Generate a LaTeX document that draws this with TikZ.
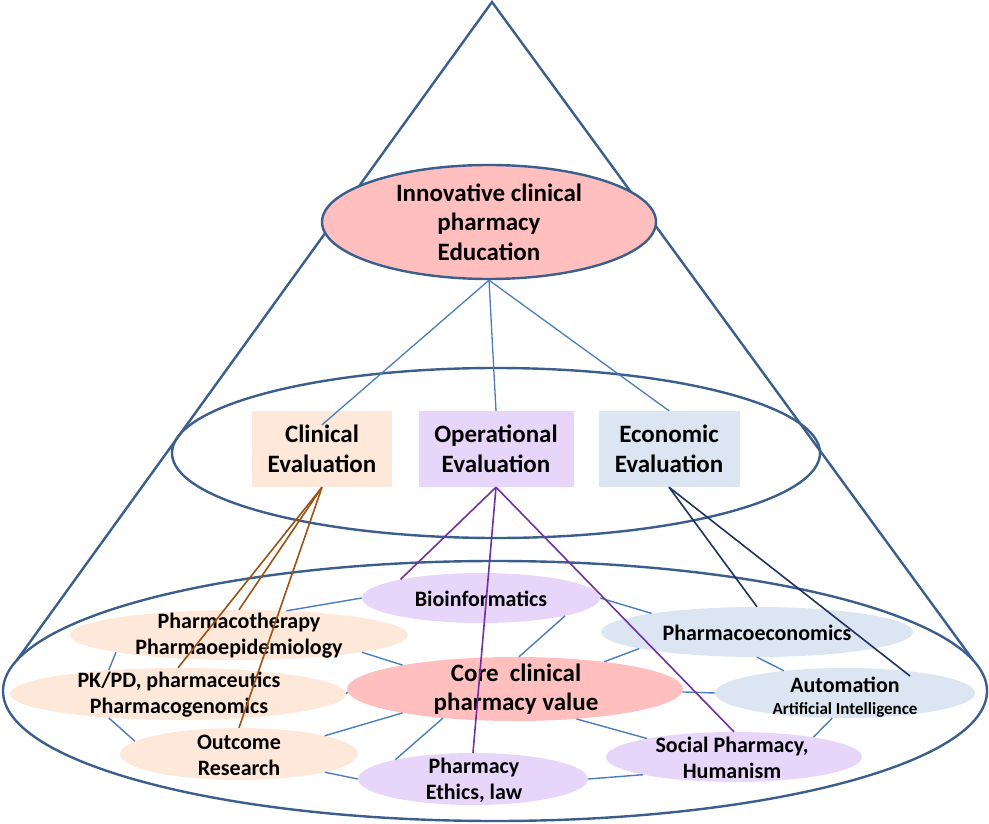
\documentclass[tikz,border=0pt]{standalone}
\usepackage{fontspec}
\setmainfont{Carlito}
\usetikzlibrary{shapes.geometric,calc}
\definecolor{bord}{RGB}{59,94,140}
\definecolor{conn}{RGB}{74,126,187}
\definecolor{brn}{RGB}{156,82,20}
\definecolor{prp}{RGB}{112,48,160}
\definecolor{nvy}{RGB}{31,50,96}
\definecolor{pinkf}{RGB}{255,191,191}
\definecolor{peach}{RGB}{253,232,217}
\definecolor{lav}{RGB}{231,214,249}
\definecolor{lblue}{RGB}{220,230,242}
\begin{document}
\begin{tikzpicture}[x=1pt,y=-1pt,
  big/.style={ellipse,inner sep=0pt,draw=bord,line width=2.4pt},
  ell/.style={ellipse,inner sep=0pt,draw=none},
  box/.style={rectangle,inner sep=0pt,draw=none},
  txt/.style={font=\bfseries\fontsize{22}{26}\selectfont,align=center,inner sep=0pt,text=black},
  txtL/.style={font=\bfseries\fontsize{25}{29.5}\selectfont,align=center,inner sep=0pt,text=black},
  con/.style={draw=conn,line width=1.4pt},
  brl/.style={draw=brn,line width=1.6pt},
  prl/.style={draw=prp,line width=1.6pt},
  nvl/.style={draw=nvy,line width=1.6pt}]
\useasboundingbox (0,0) rectangle (989,824);

% cone outline
\coordinate (apex) at (492,2);
\coordinate (tl) at (17,660);
\coordinate (tr) at (973,660);
\draw[draw=bord,line width=2.4pt,line join=miter] (tl) -- (apex) -- (tr);

% big ellipses
\node[big,minimum width=648pt,minimum height=170pt] (mid) at (496,453) {};
\node[big,minimum width=984pt,minimum height=260pt] (base) at (495,691) {};
\node[big,fill=pinkf,minimum width=334pt,minimum height=114pt] (edu) at (489,222) {};
\node[txtL] (eduT) at (489,222) {Innovative clinical\\pharmacy\\Education};

% evaluation boxes
\node[box,fill=peach,minimum width=140pt,minimum height=76pt] (clin) at (322,449) {};
\node[box,fill=lav,minimum width=155pt,minimum height=76pt] (op) at (496,449) {};
\node[box,fill=lblue,minimum width=141pt,minimum height=76pt] (eco) at (669,449) {};
\node[txtL,font=\bfseries\fontsize{25}{30}\selectfont] (clinT) at (322,449) {Clinical\\Evaluation};
\node[txtL,font=\bfseries\fontsize{25}{30}\selectfont] (opT) at (496,449) {Operational\\Evaluation};
\node[txtL,font=\bfseries\fontsize{25}{30}\selectfont] (ecoT) at (669,449) {Economic\\Evaluation};

% links from education
\draw[draw=conn,line width=1.3pt] (edu.south) -- ([yshift=-14pt]clin.north);
\draw[draw=conn,line width=1.3pt] (edu.south) -- (op.north);
\draw[draw=conn,line width=1.3pt] (edu.south) -- (eco.north);

% small ellipses
\node[ell,fill=lav,minimum width=238pt,minimum height=50pt] (bio) at (481,598) {};
\node[ell,fill=peach,minimum width=338pt,minimum height=50pt] (pt) at (239,635) {};
\node[ell,fill=peach,minimum width=336pt,minimum height=52pt] (pk) at (178,694) {};
\node[ell,fill=peach,minimum width=238pt,minimum height=52pt] (out) at (239,754) {};
\node[ell,fill=pinkf,minimum width=336pt,minimum height=64pt] (core) at (515,689) {};
\node[ell,fill=lav,minimum width=230pt,minimum height=52pt] (eth) at (473,779) {};
\node[ell,fill=lblue,minimum width=312pt,minimum height=50pt] (pe) at (757,632) {};
\node[ell,fill=lblue,minimum width=260pt,minimum height=50pt] (auto) at (845,693) {};
\node[ell,fill=lav,minimum width=256pt,minimum height=50pt] (soc) at (734,757) {};

% connectors between small ellipses
\draw[con] (pt.27.5) -- (bio.west);
\draw[con] (pt.-8.6) -- (core.168);
\draw[con] (pt.188.5) -- (pk.161.6);
\draw[con] (pk.east) -- (core.181.7);
\draw[con] (pk.199.6) -- (out.173.3);
\draw[con] (out.12.7) -- (core.192.5);
\draw[con] (core.202.5) -- (eth.166.6);
\draw[con] (out.-12.1) -- (eth.west);
\draw[con] (bio.east) -- (pe.170.2);
\draw[con] (bio.-12.7) -- (core.83);
\draw[con] (core.17.5) -- (pe.188.8);
\draw[con] (core.-1.7) -- (auto.west);
\draw[con] (pe.south) -- (auto.160.5);
\draw[con] (core.-26.6) -- (soc.168.8);
\draw[con] (auto.243) -- (soc.14.5);
\draw[con] (eth.east) -- (soc.191.8);

% texts of small ellipses
\node[txt] (bioT) at (481,599) {Bioinformatics};
\node[txt] (ptT) at (239,636) {Pharmacotherapy\\Pharmaoepidemiology};
\node[txt] (pkT) at (179,695) {PK/PD, pharmaceutics\\Pharmacogenomics};
\node[txt] (outT) at (239,755) {Outcome\\Research};
\node[txtL] (coreT) at (516,689) {Core\ \ clinical\\pharmacy value};
\node[txt] (ethT) at (474,780) {Pharmacy\\Ethics, law};
\node[txt] (peT) at (757,633) {Pharmacoeconomics};
\node[txt,align=center] (autoT) at (845,697) {Automation\\[-4pt]{\fontsize{17}{19}\selectfont Artificial Intelligence}};
\node[txt] (socT) at (732,758) {Social Pharmacy,\\Humanism};

% evaluation links
\draw[brl] (clin.south) -- (pt.north);
\draw[brl] (clin.south) -- (pk.north);
\draw[brl] (clin.south) -- (out.north);
\draw[prl] (op.south) -- (bio.167.9);
\draw[prl] (op.south) -- (eth.north);
\draw[prl] (op.south) -- (soc.north);
\draw[nvl] (eco.south) -- (pe.north);
\draw[nvl] (eco.south) -- ([shift={(65pt,17pt)}]auto.center);
\end{tikzpicture}
\end{document}
